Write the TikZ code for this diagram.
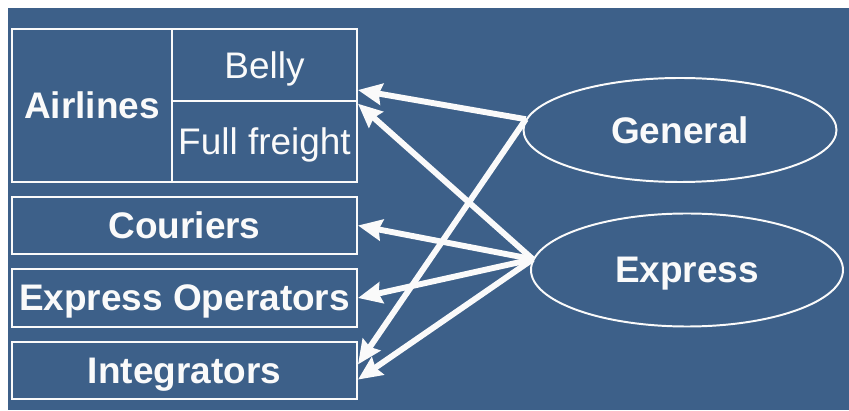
\documentclass[tikz,border=0pt]{standalone}
\usepackage{fontspec}
\setmainfont{Liberation Sans}
\usepackage{xcolor}
\usepackage{tikz}
\usetikzlibrary{arrows.meta}
\usetikzlibrary{shapes.geometric}
\definecolor{bgblue}{RGB}{61,96,137}
\definecolor{chalk}{RGB}{250,250,250}

\begin{document}
\begin{tikzpicture}
\tikzstyle{box}=[draw=chalk,line width=1.4pt,shape=rectangle,inner sep=0pt,text depth=0pt,text=chalk,font=\fontsize{26.3}{31}\selectfont\bfseries]
\tikzstyle{sub}=[box,font=\fontsize{26.3}{31}\selectfont]
\tikzstyle{grp}=[draw=chalk,line width=1.4pt,shape=ellipse,inner sep=0pt,text depth=0pt,text=chalk,font=\fontsize{26.3}{31}\selectfont\bfseries]
\tikzstyle{link}=[draw=chalk,line width=4.2pt,-{Stealth[length=17pt,width=15pt,inset=2pt]}]
%
\useasboundingbox (0,0) rectangle (21.225,10.25);
\fill[bgblue] (0.2,0) rectangle (21.225,10.05);
%
\node[box,minimum width=4cm,minimum height=3.825cm](airlines) at (2.3,7.6125){Airlines};
\node[sub,minimum width=4.625cm,minimum height=1.8cm](belly) at (6.6125,8.625){Belly};
\node[sub,minimum width=4.625cm,minimum height=2.025cm](freight) at (6.6125,6.7125){Full freight};
\node[box,minimum width=8.625cm,minimum height=1.425cm](couriers) at (4.6125,4.6125){Couriers};
\node[box,minimum width=8.625cm,minimum height=1.45cm](expops) at (4.6125,2.8){Express Operators};
\node[box,minimum width=8.625cm,minimum height=1.425cm](integ) at (4.6125,0.9875){Integrators};
%
\node[grp,minimum width=7.825cm,minimum height=2.6cm](general) at (17,7){General};
\node[grp,minimum width=7.8cm,minimum height=2.825cm](express) at (17.175,3.5){Express};
%
\draw[link] (general.176) -- (belly.-15);
\draw[link] (general.176) -- (integ.2);
%
\draw[link] (express.176) -- (freight.22);
\draw[link] (express.176) -- (couriers.east);
\draw[link] (express.176) -- (expops.east);
\draw[link] (express.176) -- (integ.-3);
\end{tikzpicture}
\end{document}
